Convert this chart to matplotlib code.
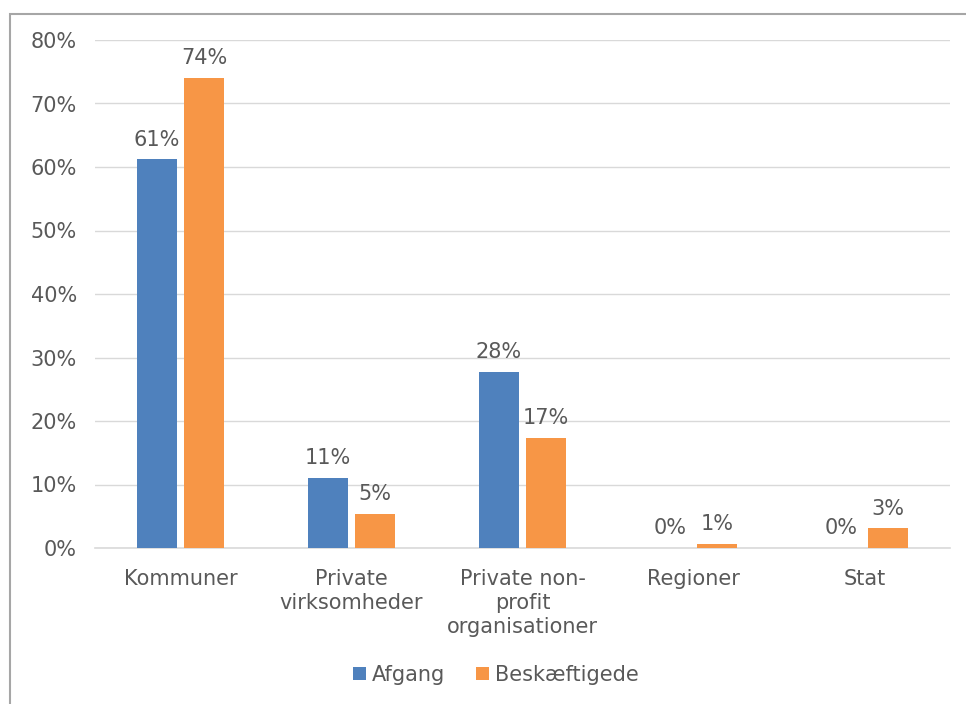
import matplotlib.pyplot as plt
import numpy as np
from matplotlib.patches import Rectangle

categories = ["Kommuner", "Private\nvirksomheder", "Private non-\nprofit\norganisationer", "Regioner", "Stat"]
afgang = [61.2, 11.0, 27.7, 0.0, 0.0]
beskaeftigede = [74.0, 5.4, 17.4, 0.6, 3.1]
afgang_labels = ["61%", "11%", "28%", "0%", "0%"]
besk_labels = ["74%", "5%", "17%", "1%", "3%"]

plt.rcParams['font.family'] = ['DejaVu Sans']
text_color = "#595959"
fs = 15

fig = plt.figure(figsize=(9.66, 7.04), dpi=100)
ax = fig.add_axes([95 / 966, 1 - 548 / 704, 855 / 966, 508 / 704])

# frame around the chart
fig.patches.append(Rectangle((10 / 966, -0.1), 1.2, (704 - 14) / 704 + 0.1,
                             transform=fig.transFigure, fill=False,
                             edgecolor="#a6a6a6", linewidth=1.5))

x = np.arange(len(categories))
w = 0.235
gap = 0.02
b1 = ax.bar(x - w / 2 - gap, afgang, w, color="#4F81BD", label="Afgang", zorder=3)
b2 = ax.bar(x + w / 2 + gap, beskaeftigede, w, color="#F79646", label="Beskæftigede", zorder=3)

ax.bar_label(b1, labels=afgang_labels, padding=7, fontsize=fs, color=text_color)
ax.bar_label(b2, labels=besk_labels, padding=7, fontsize=fs, color=text_color)

ax.set_xlim(-0.5, len(categories) - 0.5)
ax.set_ylim(0, 80)
ax.set_yticks(np.arange(0, 81, 10))
ax.set_yticklabels([f"{v}%" for v in range(0, 81, 10)])
ax.set_xticks(x)
ax.set_xticklabels(categories, linespacing=1.25)
ax.tick_params(axis="both", length=0, labelsize=fs, labelcolor=text_color)
ax.tick_params(axis="y", pad=13)
ax.tick_params(axis="x", pad=15)
ax.yaxis.grid(True, color="#d9d9d9", linewidth=1.0, zorder=0)
for s in ["top", "right", "left"]:
    ax.spines[s].set_visible(False)
ax.spines["bottom"].set_color("#d9d9d9")
ax.spines["bottom"].set_linewidth(1.2)

fig.legend(loc="center", bbox_to_anchor=(496 / 966, 1 - 675 / 704), ncol=2, frameon=False,
           fontsize=fs, labelcolor=text_color, handlelength=0.6, handleheight=0.6,
           handletextpad=0.3, columnspacing=1.5)

fig.savefig("out.png", dpi=100, facecolor="white")
